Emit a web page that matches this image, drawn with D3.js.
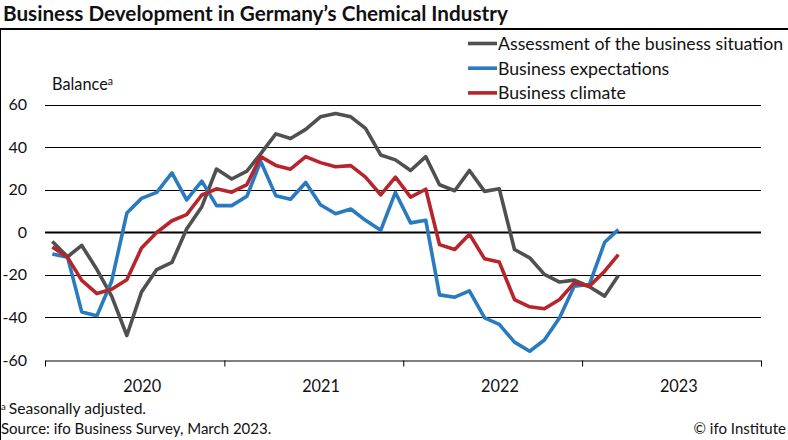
<!DOCTYPE html>
<html>
<head>
<meta charset="utf-8">
<script src="https://cdn.jsdelivr.net/npm/d3@7"></script>
<style>
  body { margin: 0; background: #fff; }
  svg { display: block; font-family: Lato, "Open Sans", sans-serif; }
</style>
</head>
<body>
<svg id="chart" width="788" height="440"></svg>
<script>
// monthly values, Jan 2020 .. Mar 2023
const months = d3.range(39).map(i => new Date(2020, i, 1))
const situation = [-4.3, -11.5, -6.2, -17.5, -30, -48.5, -28, -17.5, -14.2, 1.5,
  12, 29.7, 25, 28.7, 36.8, 46.2, 44, 48.3, 54.2, 55.8,
  54.2, 48.8, 36.3, 34, 29, 35.5, 22.3, 19.5, 29, 19.2,
  20.4, -8.1, -12, -19.8, -23.4, -22.5, -25.6, -30, -20.3]
const expectations = [-10.2, -11.7, -37.4, -39.2, -23, 9, 15.9, 18.7, 27.9, 15.2,
  24, 12.5, 12.5, 16.9, 33.3, 17.2, 15.5, 23.4, 12.9, 8.7,
  10.9, 5.6, 0.9, 18.7, 4.4, 5.6, -29.4, -30.5, -27.5, -40.2,
  -43.3, -51.6, -55.9, -50.6, -40.2, -25.3, -24.5, -4.7, 1.2]
const climate = [-6.9, -11.8, -22.6, -28.8, -26.8, -22.3, -7.4, -0.1, 5.4, 8.3,
  17.5, 20.4, 18.8, 22.4, 35.5, 31.4, 29.6, 35.5, 32.7, 30.8,
  31.3, 25.9, 17.6, 25.9, 16.5, 20.2, -5.8, -8.1, -0.9, -12.5,
  -14, -31.6, -35, -35.9, -31.6, -23.8, -25.3, -18.3, -10.5]
const years = [2020, 2021, 2022, 2023]
const yTicks = [60, 40, 20, 0, -20, -40, -60]
const seriesNames = ["Assessment of the business situation", "Business expectations", "Business climate"]
const seriesColors = ["#505050", "#2a7abf", "#b5252b"]

const svg = d3.select("#chart")

const x = d3.scaleTime()
  .domain([new Date(2020, 0, 1), new Date(2024, 0, 1)])
  .range([45, 761])
const y = d3.scaleLinear().domain([-60, 60]).range([360, 104.5])

// mid-month position
const xm = d => x(new Date(d.getFullYear(), d.getMonth(), 16))

// title + rules
svg.append("text")
  .attr("x", 3).attr("y", 21)
  .attr("font-size", 20.7).attr("font-weight", "bold").attr("fill", "#111")
  .text("Business Development in Germany’s Chemical Industry")
svg.append("line").attr("x1", 0).attr("x2", 788).attr("y1", 29).attr("y2", 29)
  .attr("stroke", "#000").attr("stroke-width", 2)
svg.append("line").attr("x1", 0.5).attr("x2", 0.5).attr("y1", 29).attr("y2", 440)
  .attr("stroke", "#000").attr("stroke-width", 1)

// gridlines
svg.append("g").selectAll("line").data(yTicks.filter(v => v != -60)).join("line")
  .attr("x1", 45).attr("x2", 761)
  .attr("y1", d => Math.round(y(d)) + 0.5).attr("y2", d => Math.round(y(d)) + 0.5)
  .attr("stroke", "#000").attr("stroke-width", d => d == 0 ? 2 : 1)

// y labels
svg.append("g").selectAll("text").data(yTicks).join("text")
  .attr("x", 27).attr("y", d => y(d) + 5.5)
  .attr("text-anchor", "end").attr("font-size", 16).attr("fill", "#111")
  .text(d => d)

const balance = svg.append("text").attr("x", 52).attr("y", 90)
  .attr("font-size", 16.3).attr("fill", "#111")
balance.append("tspan").text("Balance")
balance.append("tspan").attr("font-size", 10.5).attr("dy", -5).text("a")

// x axis
const xAxis = d3.axisBottom(x)
  .tickValues(years.map(yr => new Date(yr, 0, 1)).concat([new Date(2024, 0, 1)]))
  .tickFormat("")
  .tickSize(6)
  .tickSizeOuter(0)
const gx = svg.append("g").attr("transform", "translate(0,360.5)").call(xAxis)
gx.select(".domain").attr("stroke", "#000")
gx.selectAll(".tick line").attr("stroke", "#000")

// year labels sit a bit right of mid-year in the original
svg.append("g").selectAll("text").data(years).join("text")
  .attr("x", yr => x(new Date(yr, 6, 1)) + 8)
  .attr("y", 392)
  .attr("text-anchor", "middle").attr("font-size", 16.3).attr("fill", "#111")
  .text(yr => yr)

// lines
const line = d3.line().x((v, i) => xm(months[i])).y(v => y(v))
const allSeries = [situation, expectations, climate]
svg.append("g").selectAll("path").data(allSeries).join("path")
  .attr("d", line)
  .attr("fill", "none")
  .attr("stroke", (d, i) => seriesColors[i])
  .attr("stroke-width", 3.6)
  .attr("stroke-linejoin", "round")

// legend
const legend = svg.append("g").selectAll("g").data(seriesNames).join("g")
  .attr("transform", (d, i) => `translate(468,${43.5 + i * 24.7})`)
legend.append("line").attr("x1", 0).attr("x2", 29)
  .attr("stroke", (d, i) => seriesColors[i]).attr("stroke-width", 3.6)
legend.append("text").attr("x", 30).attr("y", 6.5)
  .attr("font-size", 17.7).attr("fill", "#111")
  .text(d => d)

// footer
const note = svg.append("text").attr("x", 1).attr("y", 414)
  .attr("font-size", 15).attr("fill", "#111")
note.append("tspan").attr("font-size", 9.5).attr("dy", -4).text("a")
note.append("tspan").attr("dy", 4).attr("dx", 3).attr("font-size", 15.6).text("Seasonally adjusted.")
svg.append("text").attr("x", 1).attr("y", 434)
  .attr("font-size", 15).attr("fill", "#111")
  .text("Source: ifo Business Survey, March 2023.")
svg.append("text").attr("x", 786).attr("y", 434)
  .attr("text-anchor", "end")
  .attr("font-size", 15).attr("fill", "#111")
  .text("© ifo Institute")
</script>
</body>
</html>
